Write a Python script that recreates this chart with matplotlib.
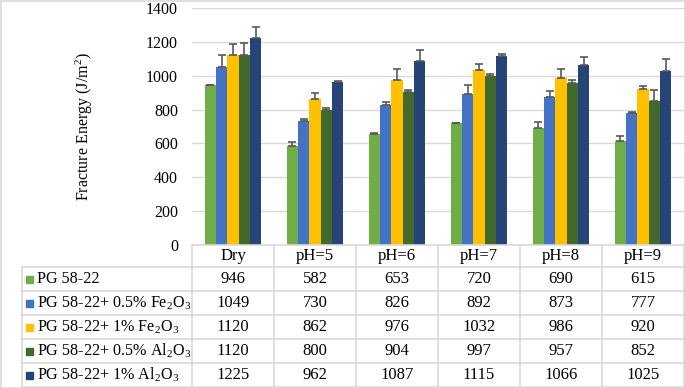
import matplotlib.pyplot as plt
from matplotlib.lines import Line2D
from matplotlib.patches import Rectangle
import numpy as np

plt.rcParams['font.family'] = ['Liberation Serif', 'DejaVu Serif']
plt.rcParams['mathtext.fontset'] = 'custom'
plt.rcParams['mathtext.rm'] = 'Liberation Serif'
plt.rcParams['mathtext.it'] = 'Liberation Serif:italic'

categories = ['Dry', 'pH=5', 'pH=6', 'pH=7', 'pH=8', 'pH=9']
series = ['PG 58-22',
          'PG 58-22+ 0.5% Fe$\\mathregular{_2}$O$\\mathregular{_3}$',
          'PG 58-22+ 1% Fe$\\mathregular{_2}$O$\\mathregular{_3}$',
          'PG 58-22+ 0.5% Al$\\mathregular{_2}$O$\\mathregular{_3}$',
          'PG 58-22+ 1% Al$\\mathregular{_2}$O$\\mathregular{_3}$']
pg = [946, 582, 653, 720, 690, 615]
fe05 = [1049, 730, 826, 892, 873, 777]
fe1 = [1120, 862, 976, 1032, 986, 920]
al05 = [1120, 800, 904, 997, 957, 852]
al1 = [1225, 962, 1087, 1115, 1066, 1025]
values = [pg, fe05, fe1, al05, al1]
# upper error
err_pg = [2, 26, 10, 3, 34, 29]
err_fe05 = [71, 12, 18, 51, 36, 10]
err_fe1 = [65, 38, 65, 37, 55, 17]
err_al05 = [75, 9, 13, 15, 15, 61]
err_al1 = [64, 4, 65, 15, 42, 73]
errors = [err_pg, err_fe05, err_fe1, err_al05, err_al1]
colors = ['#70AD47', '#4472C4', '#FFC000', '#43682B', '#264478']

W, H = 685, 388
fig = plt.figure(figsize=(W / 100, H / 100), dpi=100)


def fx(px):
    return px / W


def fy(py):
    return 1 - py / H


x_left, x_right = 192, 684
y_top, y_zero = 8, 245
ax = fig.add_axes([fx(x_left), fy(y_zero), fx(x_right - x_left), (y_zero - y_top) / H])

x = np.arange(len(categories)) + 0.5
w = 0.138
for j in range(5):
    ax.bar(x + (j - 2) * w, values[j], w, color=colors[j], zorder=3)
    ax.errorbar(x + (j - 2) * w, values[j], yerr=[np.zeros(6), errors[j]],
                fmt='none', ecolor='#595959', elinewidth=1.2, capsize=2.6,
                capthick=1.2, zorder=4)

ax.set_xlim(0, 6)
ax.set_ylim(0, 1400)
ax.set_yticks(range(0, 1401, 200))
ax.tick_params(axis='y', length=0, pad=10, labelsize=11.5)
ax.set_xticks([])
ax.grid(axis='y', color='#D9D9D9', linewidth=1, zorder=0)
for s in ax.spines.values():
    s.set_visible(False)
ax.set_ylabel('Fracture Energy (J/m$^2$)', fontsize=11.5, labelpad=37)

# data table
gc = '#D9D9D9'
col_w = (x_right - x_left) / 6
row_y = [245, 267, 291, 315, 339, 363, 387]
lab_left = 22
fig.add_artist(Line2D([fx(x_left), fx(x_right)], [fy(row_y[0])] * 2, color=gc, lw=1.2))
for r in row_y[1:]:
    fig.add_artist(Line2D([fx(lab_left), fx(x_right)], [fy(r)] * 2, color=gc, lw=1.2))
fig.add_artist(Line2D([fx(lab_left)] * 2, [fy(row_y[1]), fy(row_y[-1])], color=gc, lw=1.2))
for k in range(7):
    xx = x_left + k * col_w
    fig.add_artist(Line2D([fx(xx)] * 2, [fy(row_y[0]), fy(row_y[-1])], color=gc, lw=1.2))

for k, c in enumerate(categories):
    fig.text(fx(x_left + (k + 0.5) * col_w), fy((row_y[0] + row_y[1]) / 2), c,
             ha='center', va='center', fontsize=12)

for j in range(5):
    yc = fy((row_y[j + 1] + row_y[j + 2]) / 2)
    fig.add_artist(Rectangle((fx(26), yc - 3.5 / H), 7 / W, 7 / H, color=colors[j]))
    fig.text(fx(37), yc, series[j], ha='left', va='center', fontsize=11.6)
    for k in range(6):
        fig.text(fx(x_left + (k + 0.5) * col_w), yc, str(values[j][k]),
                 ha='center', va='center', fontsize=12)

fig.add_artist(Rectangle((0.5 / W, 0.5 / H), 1 - 1 / W, 1 - 1 / H, fill=False,
                         edgecolor=gc, lw=1.2))

fig.savefig('out.png', dpi=100)
